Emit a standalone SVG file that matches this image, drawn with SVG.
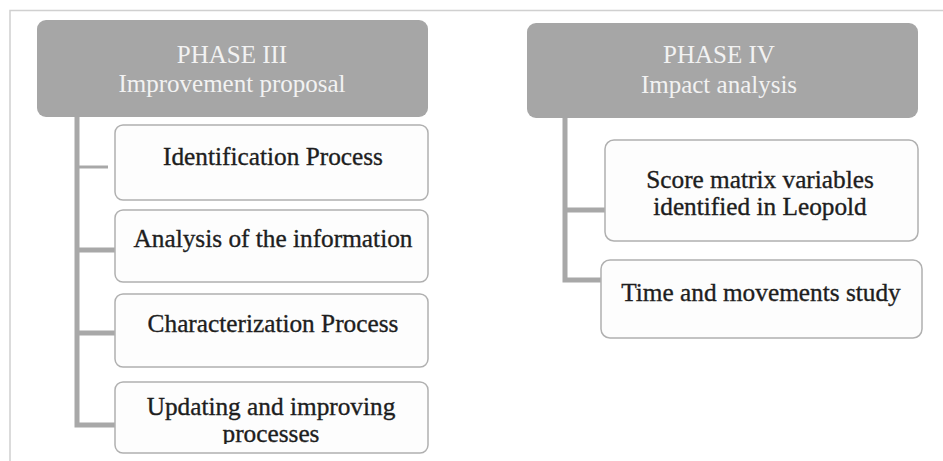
<svg xmlns="http://www.w3.org/2000/svg" width="943" height="461" viewBox="0 0 943 461">
<style>
.head{fill:#a6a6a6;stroke:none}
.child{fill:#fdfdfd;stroke:#b0b0b0;stroke-width:1.5}
.ht{font-family:"Liberation Serif",serif;font-size:25px;fill:#f2f2f2;text-anchor:middle}
.ct{font-family:"Liberation Serif",serif;font-size:25.3px;fill:#1e1e1e;stroke:#1e1e1e;stroke-width:0.35;text-anchor:middle}
.conn{fill:none;stroke:#a8a8a8;stroke-width:5}
.frame{fill:none;stroke:#d0d0d0;stroke-width:1.5}
</style>
<defs>
<clipPath id="clipU"><rect x="115" y="382" width="314" height="62"/></clipPath>
</defs>
<rect width="943" height="461" fill="#ffffff"/>
<path class="frame" d="M10,461 V10.5 H943"/>
<g id="connectors">
<path class="conn" d="M77,117 V425 H115"/>
<path class="conn" d="M77,250 H115 M77,333 H115"/>
<path class="conn" d="M77,167 H108" style="stroke-width:3"/>
<path class="conn" d="M565,118 V280 H601"/>
<path class="conn" d="M565,210 H605"/>
</g>
<g id="phase3">
<rect class="head" x="37" y="20" width="391" height="97" rx="9"/>
<text class="ht" x="232" y="63">PHASE III</text>
<text class="ht" x="232" y="92">Improvement proposal</text>
</g>
<g id="identification">
<rect class="child" x="115" y="125" width="313" height="75" rx="8"/>
<text class="ct" x="273" y="165">Identification Process</text>
</g>
<g id="analysis">
<rect class="child" x="115" y="210" width="313" height="72" rx="8"/>
<text class="ct" x="273" y="247">Analysis of the information</text>
</g>
<g id="characterization">
<rect class="child" x="115" y="294" width="313" height="73" rx="8"/>
<text class="ct" x="273" y="332">Characterization Process</text>
</g>
<g id="updating">
<rect class="child" x="115" y="382" width="313" height="71" rx="8"/>
<g clip-path="url(#clipU)">
<text class="ct" x="271" y="415">Updating and improving</text>
<text class="ct" x="271" y="442">processes</text>
</g>
</g>
<g id="phase4">
<rect class="head" x="527" y="23" width="391" height="95" rx="9"/>
<text class="ht" x="719" y="63">PHASE IV</text>
<text class="ht" x="719" y="93">Impact analysis</text>
</g>
<g id="score">
<rect class="child" x="605" y="140" width="313" height="101" rx="9"/>
<text class="ct" x="760" y="188">Score matrix variables</text>
<text class="ct" x="760" y="215">identified in Leopold</text>
</g>
<g id="time">
<rect class="child" x="601" y="260" width="321" height="78" rx="9"/>
<text class="ct" x="761" y="301">Time and movements study</text>
</g>
</svg>
